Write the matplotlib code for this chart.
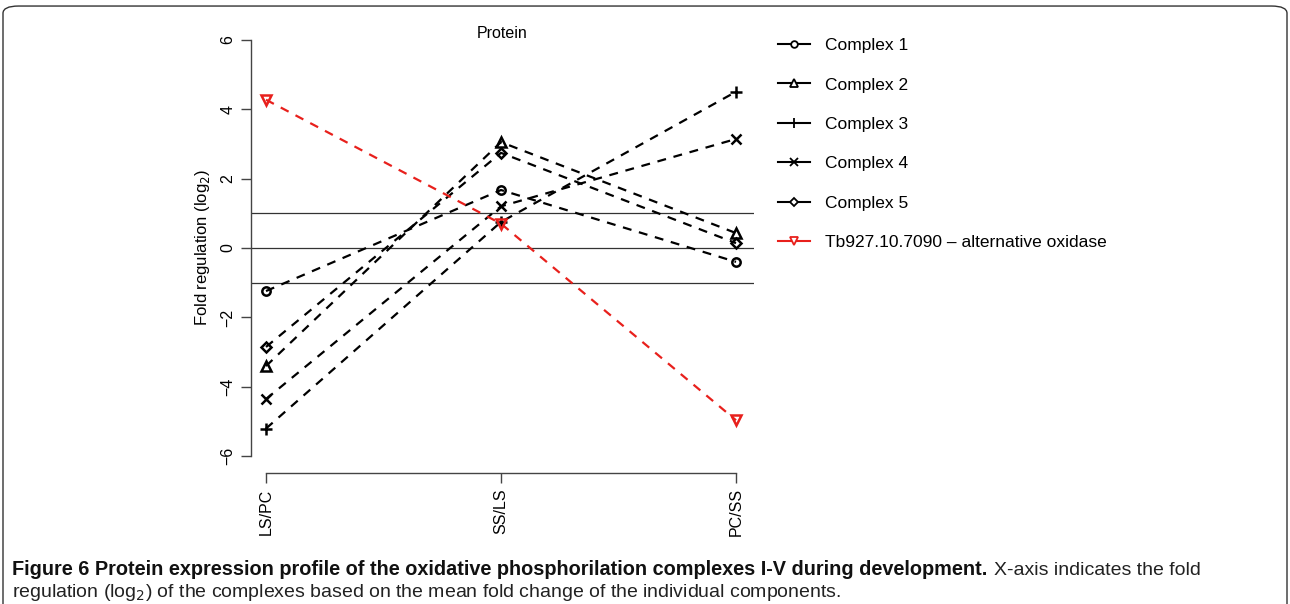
import matplotlib
matplotlib.use("Agg")
import matplotlib.pyplot as plt
from matplotlib.patches import FancyBboxPatch
from matplotlib.lines import Line2D

categories = ["LS/PC", "SS/LS", "PC/SS"]
series_names = ["Complex 1", "Complex 2", "Complex 3", "Complex 4", "Complex 5",
                "Tb927.10.7090 \u2013 alternative oxidase"]
complex1 = [-1.24, 1.67, -0.40]
complex2 = [-3.40, 3.05, 0.43]
complex3 = [-5.20, 0.75, 4.50]
complex4 = [-4.35, 1.20, 3.14]
complex5 = [-2.85, 2.74, 0.14]
aox = [4.27, 0.70, -4.96]
yticks = [-6, -4, -2, 0, 2, 4, 6]
hlines = [-1, 0, 1]

series = [complex1, complex2, complex3, complex4, complex5, aox]
markers = ["o", "^", "+", "x", "D", "v"]
msizes = [6, 7, 9, 7, 5.5, 7]
colors = ["black"] * 5 + ["#e8201c"]

plt.rcParams["font.family"] = ["Liberation Sans", "DejaVu Sans"]

W, H = 1290, 604
fig = plt.figure(figsize=(12.9, 6.04), dpi=100)
ax = fig.add_axes([251 / W, 1 - 473 / H, 503 / W, 450 / H])

x = [1, 2, 3]
for h in hlines:
    ax.axhline(h, color="#333333", lw=0.9, zorder=1)

handles = []
for s, m, ms, c, name in zip(series, markers, msizes, colors, series_names):
    ax.plot(x, s, ls=(0, (4, 3.5)), color=c, lw=1.6, zorder=2)
    ax.plot(x, s, ls="none", marker=m, ms=ms, mfc="none", mec=c, mew=1.8, zorder=3)
    handles.append(Line2D([0], [0], color=c, lw=1.5, marker=m, ms=ms * 0.8,
                          mfc="white", mec=c, mew=1.3))

ax.set_xlim(1 - 15 / 235, 3 + 18 / 235)
ax.set_ylim(-6.48, 6.48)
for sp in ["top", "right"]:
    ax.spines[sp].set_visible(False)
ax.spines["left"].set_bounds(-6, 6)
ax.spines["bottom"].set_bounds(1, 3)
for sp in ["left", "bottom"]:
    ax.spines[sp].set_color("#444444")
    ax.spines[sp].set_linewidth(1.0)

ax.set_xticks(x)
ax.set_xticklabels(categories, rotation=90, fontsize=11.5)
ax.set_yticks(yticks)
ax.set_yticklabels(["\u2212" + str(abs(v)) if v < 0 else str(v) for v in yticks],
                   rotation=90, va="center", fontsize=11.5)
ax.tick_params(axis="both", length=7, width=1.0, color="#444444", pad=4)
ax.set_ylabel("Fold regulation (log$_2$)", fontsize=12, labelpad=6)
ax.set_title("Protein", fontsize=11.5, pad=-11, y=1.0)

fig.legend(handles, series_names, loc="upper left", bbox_to_anchor=(771 / W, 1 - 31 / H),
           frameon=False, fontsize=12.5, handlelength=1.85, handletextpad=0.85,
           labelspacing=1.4, borderaxespad=0)

cap_font = ["Liberation Sans"]
t1 = fig.text(12 / W, 1 - 575 / H,
              "Figure 6 Protein expression profile of the oxidative phosphorilation complexes I-V during development.",
              fontsize=14.3, fontweight="bold", family=cap_font, va="baseline", color="#111111")
fig.canvas.draw()
bb = t1.get_window_extent(renderer=fig.canvas.get_renderer())
fig.text((bb.x1 + 7) / W, 1 - 575 / H, "X-axis indicates the fold",
         fontsize=14, family=cap_font, va="baseline", color="#222222")
fig.text(12 / W, 1 - 597 / H,
         "regulation (log$_2$) of the complexes based on the mean fold change of the individual components.",
         fontsize=14, va="baseline", family=cap_font, color="#222222")

box = FancyBboxPatch((3 / W, -0.05), 1284 / W, 1.04, boxstyle="round,pad=0,rounding_size=0.012",
                     transform=fig.transFigure, fill=False, ec="#333333", lw=1.0)
fig.add_artist(box)

fig.savefig("out.png", dpi=100)
